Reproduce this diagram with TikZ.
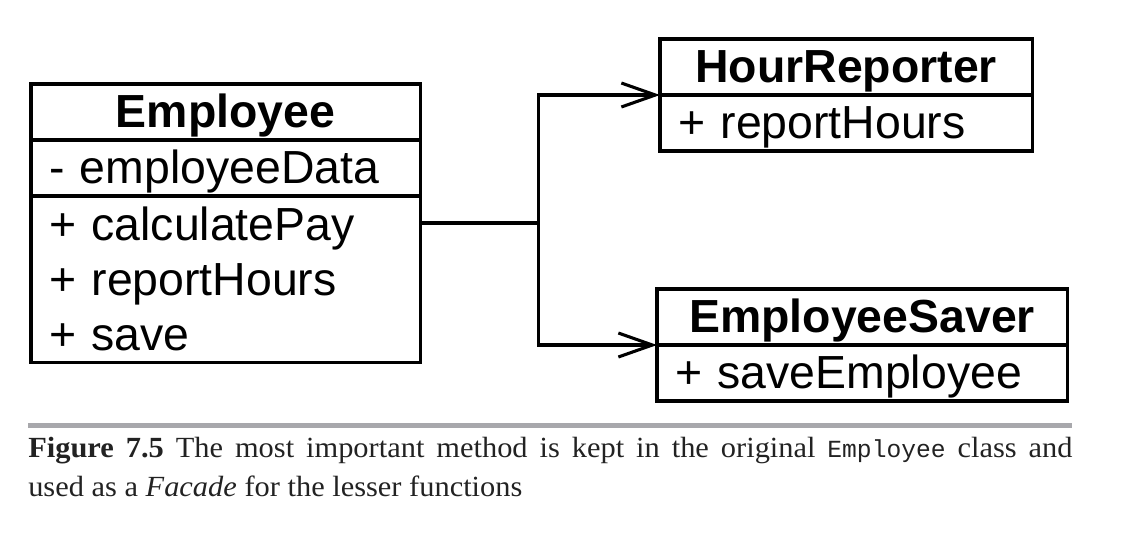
\documentclass[tikz,border=0pt]{standalone}
\usepackage{fontspec}
\setmainfont[FakeStretch=1.04]{Liberation Serif}
\setsansfont{Liberation Sans}
\setmonofont{Liberation Mono}
\usetikzlibrary{positioning,calc,arrows.meta}
\definecolor{rulegrey}{HTML}{A8A8AC}
\definecolor{captext}{HTML}{222222}
\newcommand\umlfont{\fontsize{33}{39}\selectfont\sffamily}
\tikzset{
  umlbox/.style={draw,line width=2.2pt,outer sep=0pt,inner xsep=0.45cm,inner ysep=0pt,
    text width=#1,align=left,font=\umlfont},
  umlrow/.style={umlbox=#1,minimum height=1.4cm,text height=0.9cm,text depth=0.15cm},
  umlhead/.style={umlrow=#1,align=center,font=\umlfont\bfseries},
  assoc/.style={line width=2.2pt,-{Straight Barb[length=0.85cm,width=0.6cm]}},
}
\begin{document}
\begin{tikzpicture}[x=0.025cm,y=-0.025cm]
      \useasboundingbox (0,0) rectangle (1128,536);
      \def\gap{118};
      % Employee
      \node[umlhead=8.825cm,anchor=north west] (emphead) at (31,84) {Employee};
      \node[umlrow=8.825cm,below=0pt of emphead] (empattr) {- employeeData};
      \node[umlbox=8.825cm,minimum height=4.15cm,below=0pt of empattr] (empops)
        {+ calculatePay\\+ reportHours\\+ save};
      % HourReporter
      \node[umlhead=8.4cm,anchor=north west] (hrhead) at (660,39) {HourReporter};
      \node[umlrow=8.4cm,below=0pt of hrhead] (hrops) {+ reportHours};
      % EmployeeSaver
      \node[umlhead=9.35cm,anchor=north west] (eshead) at (657,289) {EmployeeSaver};
      \node[umlrow=9.35cm,below=0pt of eshead] (esops) {+ saveEmployee};
      % facade connectors
      \coordinate (empout) at ($(emphead.north east)!0.5!(empops.south east)$);
      \coordinate (split) at ($(empout)+(\gap,0)$);
      \draw[line width=2.2pt] (empout) -- (split);
      \draw[assoc] (split) |- (hrhead.south west);
      \draw[assoc] (split) |- (eshead.south west);
      % caption
      \draw[rulegrey,line width=3.5pt] (28,425.5) -- (1072,425.5);
      \node[anchor=north west,inner sep=0pt,text width=26.1cm,align=justify,text=captext,
        font=\fontsize{20.8}{27.7}\selectfont] (caption) at (28,437)
        {\textbf{Figure 7.5} The most important method is kept in the original
        {\ttfamily\fontsize{17.5}{27.7}\selectfont Employee} class and\linebreak
        used as a \textit{Facade} for the lesser functions};
    \end{tikzpicture}
\end{document}
